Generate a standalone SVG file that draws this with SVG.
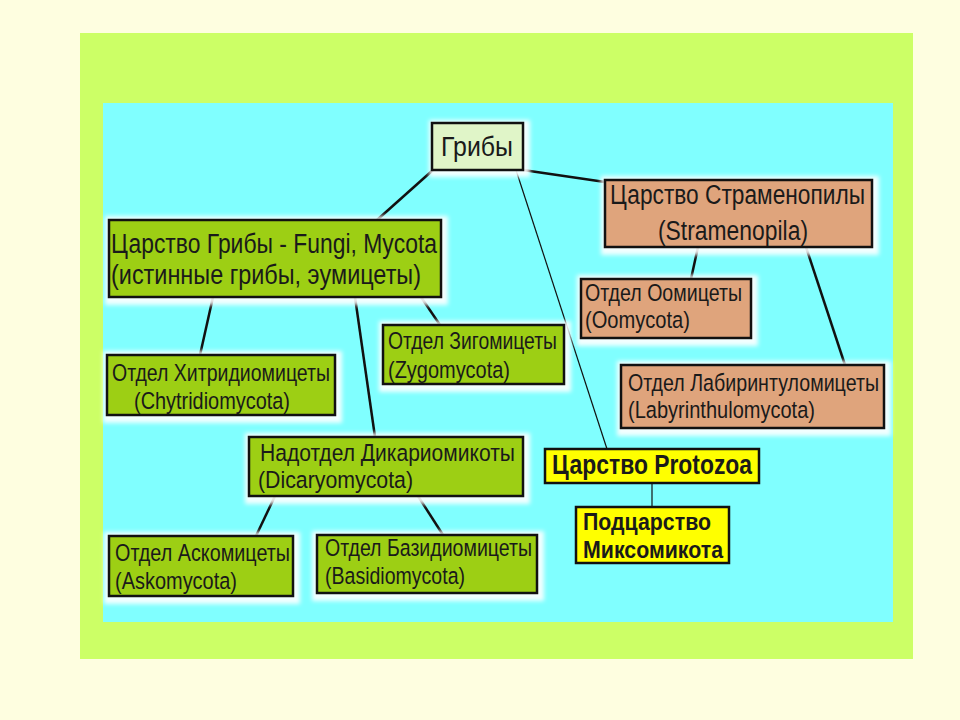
<svg xmlns="http://www.w3.org/2000/svg" width="960" height="720" viewBox="0 0 960 720">
<defs>
<filter id="blur" x="-10%" y="-20%" width="120%" height="140%"><feGaussianBlur stdDeviation="2"/></filter>
<style>
.t{font-family:"Liberation Sans",Arial,sans-serif;fill:#1a1a1a;}
.s{font-size:24.5px;}
.b{font-size:27px;}
.bold{font-weight:bold;}
.box{stroke:#111;stroke-width:2.5;}
.g{fill:#9dcf14;}
.r{fill:#e0f5c8;}
.o{fill:#dfa47c;}
.y{fill:#ffff00;}
.halo{fill:#ffffff;filter:url(#blur);opacity:0.9;}
.c{stroke:#111;fill:none;}
.w{stroke-width:2.5;}
.n{stroke-width:1.2;}
</style>
</defs>
<rect x="0" y="0" width="960" height="720" fill="#fefee0"/>
<rect x="80" y="33" width="833" height="626" fill="#ccff66"/>
<rect x="103" y="103" width="790" height="519" fill="#80ffff"/>

<g id="connectors">
<line class="c w" x1="433" y1="170" x2="377" y2="220"/>
<line class="c w" x1="523" y1="170" x2="605" y2="182"/>
<line class="c n" x1="516" y1="170" x2="607" y2="449"/>
<line class="c w" x1="213" y1="297" x2="200" y2="355"/>
<line class="c w" x1="355" y1="297" x2="375" y2="437"/>
<line class="c w" x1="421" y1="297" x2="440" y2="325"/>
<line class="c w" x1="698" y1="247" x2="691" y2="279"/>
<line class="c w" x1="806" y1="247" x2="845" y2="365"/>
<line class="c w" x1="275" y1="496" x2="256" y2="536"/>
<line class="c w" x1="418" y1="496" x2="443" y2="535"/>
<line class="c n" x1="652" y1="483" x2="652" y2="507"/>
</g>

<g id="root">
<rect class="halo" x="429" y="120" width="101" height="57"/>
<rect class="box r" x="432" y="123" width="91" height="47"/>
<text class="t b" x="441" y="156" textLength="72" lengthAdjust="spacingAndGlyphs">Грибы</text>
</g>

<g id="fungi">
<rect class="halo" x="105" y="216" width="343" height="89"/>
<rect class="box g" x="109" y="220" width="332" height="77"/>
<text class="t b" x="111" y="253" textLength="326" lengthAdjust="spacingAndGlyphs">Царство Грибы - Fungi, Mycota</text>
<text class="t b" x="111" y="284" textLength="310" lengthAdjust="spacingAndGlyphs">(истинные грибы, эумицеты)</text>
</g>

<g id="stramenopila">
<rect class="halo" x="601" y="176" width="278" height="79"/>
<rect class="box o" x="605" y="180" width="267" height="67"/>
<text class="t b" x="610" y="204" textLength="255" lengthAdjust="spacingAndGlyphs">Царство Страменопилы</text>
<text class="t b" x="658" y="240" textLength="150" lengthAdjust="spacingAndGlyphs">(Stramenopila)</text>
</g>

<g id="oomycota">
<rect class="halo" x="577" y="275" width="181" height="71"/>
<rect class="box o" x="581" y="279" width="170" height="59"/>
<text class="t s" x="585" y="301" textLength="157" lengthAdjust="spacingAndGlyphs">Отдел Оомицеты</text>
<text class="t s" x="585" y="328" textLength="105" lengthAdjust="spacingAndGlyphs">(Oomycota)</text>
</g>

<g id="labyrinthulomycota">
<rect class="halo" x="617" y="361" width="274" height="75"/>
<rect class="box o" x="621" y="365" width="263" height="63"/>
<text class="t s" x="628" y="391" textLength="251" lengthAdjust="spacingAndGlyphs">Отдел Лабиринтуломицеты</text>
<text class="t s" x="628" y="418" textLength="187" lengthAdjust="spacingAndGlyphs">(Labyrinthulomycota)</text>
</g>

<g id="zygomycota">
<rect class="halo" x="379" y="321" width="192" height="71"/>
<rect class="box g" x="383" y="325" width="181" height="59"/>
<text class="t s" x="388" y="349" textLength="169" lengthAdjust="spacingAndGlyphs">Отдел Зигомицеты</text>
<text class="t s" x="388" y="378" textLength="122" lengthAdjust="spacingAndGlyphs">(Zygomycota)</text>
</g>

<g id="chytridiomycota">
<rect class="halo" x="103" y="351" width="239" height="72"/>
<rect class="box g" x="107" y="355" width="228" height="60"/>
<text class="t s" x="112" y="381" textLength="218" lengthAdjust="spacingAndGlyphs">Отдел Хитридиомицеты</text>
<text class="t s" x="134" y="409" textLength="156" lengthAdjust="spacingAndGlyphs">(Chytridiomycota)</text>
</g>

<g id="dicaryomycota">
<rect class="halo" x="245" y="433" width="285" height="71"/>
<rect class="box g" x="249" y="437" width="274" height="59"/>
<text class="t s" x="260" y="461" textLength="255" lengthAdjust="spacingAndGlyphs">Надотдел Дикариомикоты</text>
<text class="t s" x="258" y="488" textLength="155" lengthAdjust="spacingAndGlyphs">(Dicaryomycota)</text>
</g>

<g id="askomycota">
<rect class="halo" x="104" y="532" width="196" height="72"/>
<rect class="box g" x="109" y="536" width="184" height="60"/>
<text class="t s" x="115" y="561" textLength="175" lengthAdjust="spacingAndGlyphs">Отдел Аскомицеты</text>
<text class="t s" x="115" y="589" textLength="122" lengthAdjust="spacingAndGlyphs">(Askomycota)</text>
</g>

<g id="basidiomycota">
<rect class="halo" x="312" y="531" width="232" height="70"/>
<rect class="box g" x="317" y="535" width="220" height="58"/>
<text class="t s" x="325" y="556" textLength="207" lengthAdjust="spacingAndGlyphs">Отдел Базидиомицеты</text>
<text class="t s" x="325" y="584" textLength="140" lengthAdjust="spacingAndGlyphs">(Basidiomycota)</text>
</g>

<g id="protozoa">
<rect class="box y" x="545" y="449" width="214" height="34" stroke-width="1.8"/>
<text class="t b bold" x="552" y="474" textLength="200" lengthAdjust="spacingAndGlyphs">Царство Protozoa</text>
</g>

<g id="myxomycota">
<rect class="box y" x="576" y="507" width="153" height="56" stroke-width="1.8"/>
<text class="t s bold" x="583" y="530" textLength="128" lengthAdjust="spacingAndGlyphs">Подцарство</text>
<text class="t s bold" x="583" y="558" textLength="140" lengthAdjust="spacingAndGlyphs">Миксомикота</text>
</g>
</svg>
